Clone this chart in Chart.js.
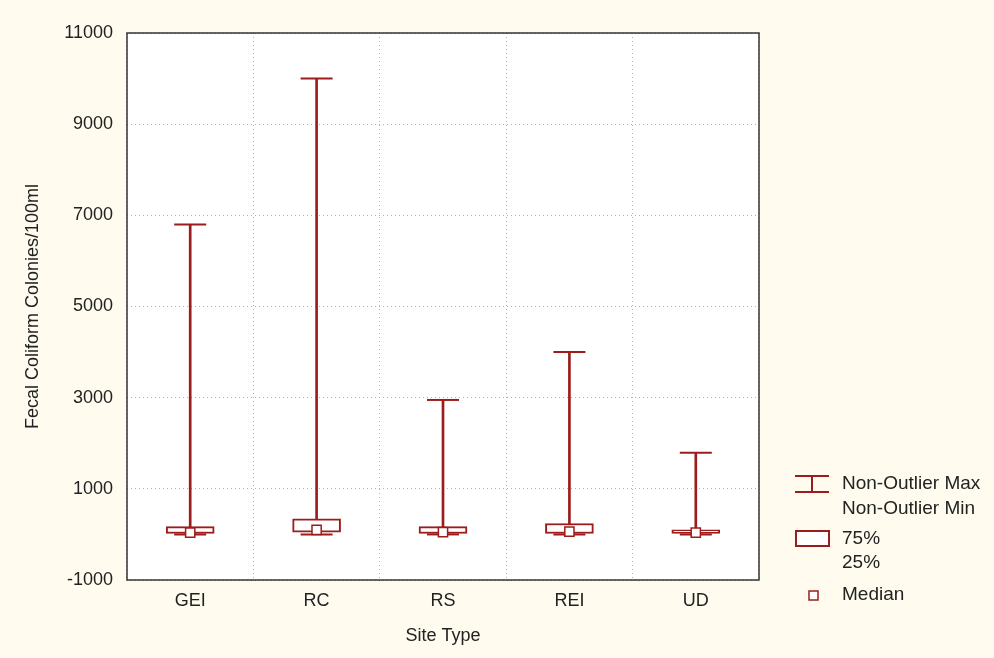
<!DOCTYPE html>
<html>
<head>
<meta charset="utf-8">
<script src="https://cdn.jsdelivr.net/npm/chart.js@4.4.0/dist/chart.umd.min.js"></script>
<style>
  html, body { margin: 0; padding: 0; background: #fffcef; }
  #chart { display: block; }
</style>
</head>
<body>
<canvas id="chart" width="994" height="658"></canvas>
<script>
// box plot data
const categories = ["GEI", "RC", "RS", "REI", "UD"];
const whiskerMin = [0, 0, 0, 0, 0];
const whiskerMax = [6800, 10000, 2950, 4000, 1790];
const q25 = [20, 50, 20, 20, 20];
const q75 = [170, 340, 170, 240, 100];
const medians = [40, 100, 50, 60, 40];
const yTicks = [-1000, 1000, 3000, 5000, 7000, 9000, 11000];

const red = "#9c1c1c";
const font = "'Liberation Sans', Arial, sans-serif";

// page background, white plot area, frame and the legend on the right
const decor = {
  id: "decor",
  beforeDraw(chart) {
    const { ctx, chartArea: a } = chart;
    ctx.save();
    ctx.fillStyle = "#fffcef";
    ctx.fillRect(0, 0, chart.width, chart.height);
    ctx.fillStyle = "#ffffff";
    ctx.fillRect(a.left, a.top, a.right - a.left, a.bottom - a.top);
    ctx.restore();
  },
  afterDraw(chart) {
    const { ctx, chartArea: a } = chart;
    ctx.save();
    ctx.strokeStyle = "#333";
    ctx.lineWidth = 1.5;
    ctx.strokeRect(a.left, a.top, a.right - a.left, a.bottom - a.top);

    // legend
    ctx.strokeStyle = red;
    ctx.lineWidth = 2;
    ctx.beginPath();
    ctx.moveTo(795, 476); ctx.lineTo(829, 476);
    ctx.moveTo(795, 492); ctx.lineTo(829, 492);
    ctx.moveTo(812, 476); ctx.lineTo(812, 492);
    ctx.stroke();
    ctx.fillStyle = "#fff";
    ctx.fillRect(796, 531, 33, 15);
    ctx.strokeRect(796, 531, 33, 15);
    ctx.lineWidth = 1.5;
    ctx.fillRect(809, 591, 9, 9);
    ctx.strokeRect(809, 591, 9, 9);

    ctx.fillStyle = "#222";
    ctx.font = "19px " + font;
    ctx.textBaseline = "middle";
    ctx.fillText("Non-Outlier Max", 842, 484);
    ctx.fillText("Non-Outlier Min", 842, 509);
    ctx.fillText("75%", 842, 539);
    ctx.fillText("25%", 842, 563);
    ctx.fillText("Median", 842, 595);
    ctx.restore();
  },
};

new Chart(document.getElementById("chart"), {
  type: "bar",
  data: {
    labels: categories,
    datasets: [
      {
        label: "whisker",
        data: categories.map((c, i) => [whiskerMin[i], whiskerMax[i]]),
        backgroundColor: red,
        borderWidth: 0,
        barThickness: 2,
        grouped: false,
        order: 3,
      },
      {
        label: "box",
        data: categories.map((c, i) => [q25[i], q75[i]]),
        backgroundColor: "#ffffff",
        borderColor: red,
        borderWidth: 2,
        borderSkipped: false,
        barThickness: 48,
        grouped: false,
        order: 2,
      },
      {
        type: "line",
        label: "max",
        data: whiskerMax,
        showLine: false,
        pointStyle: "line",
        pointRadius: 16,
        pointBorderWidth: 2,
        pointBorderColor: red,
        order: 1,
      },
      {
        type: "line",
        label: "min",
        data: whiskerMin,
        showLine: false,
        pointStyle: "line",
        pointRadius: 16,
        pointBorderWidth: 2,
        pointBorderColor: red,
        order: 1,
      },
      {
        type: "line",
        label: "median",
        data: medians,
        showLine: false,
        pointStyle: "rect",
        pointRadius: 6.5,
        pointBorderWidth: 1.5,
        pointBorderColor: red,
        pointBackgroundColor: "#ffffff",
        order: 0,
      },
    ],
  },
  options: {
    responsive: false,
    animation: false,
    events: [],
    layout: { padding: { top: 33, right: 235, left: 0, bottom: 0 } },
    plugins: {
      legend: { display: false },
      tooltip: { enabled: false },
    },
    scales: {
      x: {
        grid: { color: "#b0b0b0", lineWidth: 1, drawTicks: false, offset: true },
        border: { display: false, dash: [1, 3] },
        ticks: { color: "#222", padding: 10, font: { family: font, size: 18 } },
        title: {
          display: true,
          text: "Site Type",
          color: "#222",
          padding: { top: 6, bottom: 11 },
          font: { family: font, size: 18 },
        },
        afterFit(scale) { scale.height = 78; },
      },
      y: {
        min: -1000,
        max: 11000,
        afterBuildTicks(scale) { scale.ticks = yTicks.map((v) => ({ value: v })); },
        grid: { color: "#b0b0b0", lineWidth: 1, drawTicks: false },
        border: { display: false, dash: [1, 3] },
        ticks: {
          color: "#222",
          padding: 14,
          font: { family: font, size: 18 },
          callback: (v) => String(v),
        },
        title: {
          display: true,
          text: "Fecal Coliform Colonies/100ml",
          color: "#222",
          padding: { top: 22 },
          font: { family: font, size: 18 },
        },
        afterFit(scale) { scale.width = 127; },
      },
    },
  },
  plugins: [decor],
});
</script>
</body>
</html>
